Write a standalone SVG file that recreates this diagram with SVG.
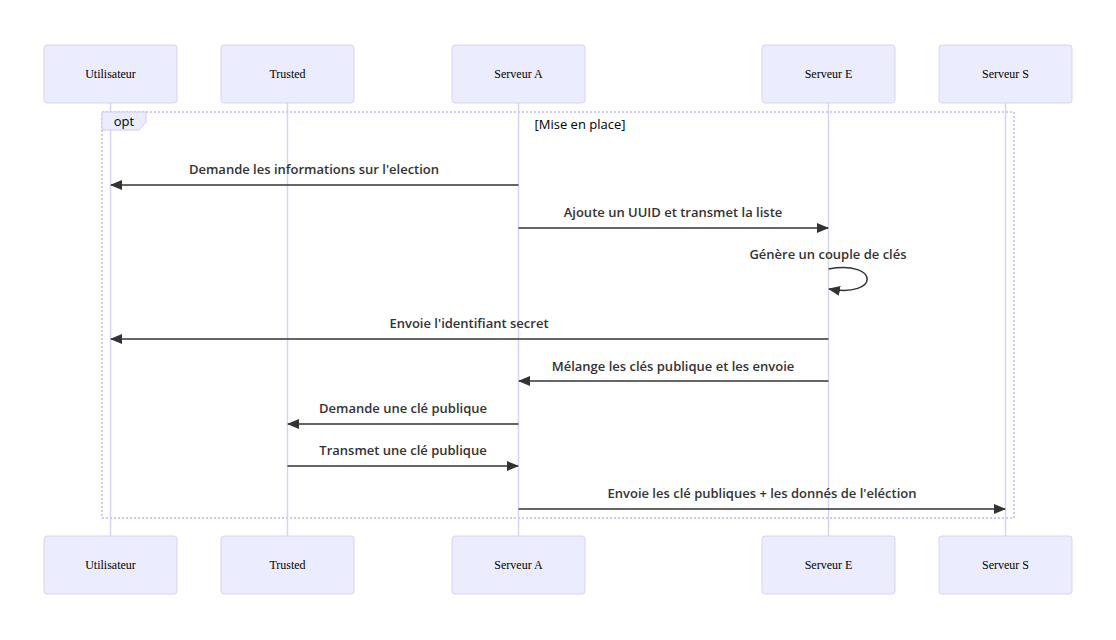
<svg xmlns="http://www.w3.org/2000/svg" width="1116" height="640" viewBox="0 0 1116 640">
<style>
.actor{fill:#ECECFF;stroke:#d9d2f7;stroke-width:1}
.atext{font-family:"Liberation Serif",serif;font-size:12px;fill:#000;text-anchor:middle;dominant-baseline:central}
.life{stroke:#d9d2f7;stroke-width:1.5}
.msg{stroke:#333;stroke-width:1.5;fill:none}
.mtext{font-family:"Open Sans","Noto Sans",sans-serif;font-weight:600;font-size:13px;fill:#333;text-anchor:middle}
.loop{fill:none;stroke:#d0c8f5;stroke-width:2;stroke-dasharray:2,2}
.ltext{font-family:"Open Sans","Noto Sans",sans-serif;font-size:13px;fill:#000}
</style>
<defs>
<marker id="ah" viewBox="0 0 12 12" refX="11" refY="6" markerWidth="12" markerHeight="12" markerUnits="userSpaceOnUse" orient="auto">
<path d="M0,1 L12,6 L0,11 z" fill="#333"/>
</marker>
</defs>
<g id="lifelines">
<line class="life" x1="110.5" y1="103" x2="110.5" y2="536"/>
<line class="life" x1="287.5" y1="103" x2="287.5" y2="536"/>
<line class="life" x1="518.5" y1="103" x2="518.5" y2="536"/>
<line class="life" x1="828.5" y1="103" x2="828.5" y2="536"/>
<line class="life" x1="1005.5" y1="103" x2="1005.5" y2="536"/>
</g>
<g id="actor-utilisateur">
<rect class="actor" x="44" y="45" width="133" height="58" rx="3"/><text class="atext" x="110.5" y="74">Utilisateur</text>
<rect class="actor" x="44" y="536" width="133" height="58" rx="3"/><text class="atext" x="110.5" y="565">Utilisateur</text>
</g>
<g id="actor-trusted">
<rect class="actor" x="221" y="45" width="133" height="58" rx="3"/><text class="atext" x="287.5" y="74">Trusted</text>
<rect class="actor" x="221" y="536" width="133" height="58" rx="3"/><text class="atext" x="287.5" y="565">Trusted</text>
</g>
<g id="actor-serveur-a">
<rect class="actor" x="452" y="45" width="133" height="58" rx="3"/><text class="atext" x="518.5" y="74">Serveur A</text>
<rect class="actor" x="452" y="536" width="133" height="58" rx="3"/><text class="atext" x="518.5" y="565">Serveur A</text>
</g>
<g id="actor-serveur-e">
<rect class="actor" x="762" y="45" width="133" height="58" rx="3"/><text class="atext" x="828.5" y="74">Serveur E</text>
<rect class="actor" x="762" y="536" width="133" height="58" rx="3"/><text class="atext" x="828.5" y="565">Serveur E</text>
</g>
<g id="actor-serveur-s">
<rect class="actor" x="939" y="45" width="133" height="58" rx="3"/><text class="atext" x="1005.5" y="74">Serveur S</text>
<rect class="actor" x="939" y="536" width="133" height="58" rx="3"/><text class="atext" x="1005.5" y="565">Serveur S</text>
</g>
<g id="opt-loop">
<rect class="loop" x="102" y="112" width="912" height="406"/>
<polygon points="102,112 146,112 146,122 139,130 102,130" fill="#ECECFF" stroke="#d0c8f5" stroke-width="1"/>
<text class="ltext" x="124" y="126" text-anchor="middle">opt</text>
<text class="ltext" x="580" y="129" text-anchor="middle">[Mise en place]</text>
</g>
<g id="connectors">
<text class="mtext" x="314" y="174">Demande les informations sur l'election</text>
<line class="msg" x1="518.5" y1="185" x2="111" y2="185" marker-end="url(#ah)"/>
<text class="mtext" x="673" y="217">Ajoute un UUID et transmet la liste</text>
<line class="msg" x1="518.5" y1="228" x2="828" y2="228" marker-end="url(#ah)"/>
<text class="mtext" x="828" y="259">Génère un couple de clés</text>
<path class="msg" d="M828.5,269 C880,260 880,298 829,289" marker-end="url(#ah)"/>
<text class="mtext" x="469" y="328">Envoie l'identifiant secret</text>
<line class="msg" x1="828.5" y1="339" x2="111" y2="339" marker-end="url(#ah)"/>
<text class="mtext" x="673" y="371">Mélange les clés publique et les envoie</text>
<line class="msg" x1="828.5" y1="381" x2="519" y2="381" marker-end="url(#ah)"/>
<text class="mtext" x="403" y="413">Demande une clé publique</text>
<line class="msg" x1="518.5" y1="424" x2="288" y2="424" marker-end="url(#ah)"/>
<text class="mtext" x="403" y="455">Transmet une clé publique</text>
<line class="msg" x1="287.5" y1="466" x2="518" y2="466" marker-end="url(#ah)"/>
<text class="mtext" x="762" y="498">Envoie les clé publiques + les donnés de l'eléction</text>
<line class="msg" x1="518.5" y1="509" x2="1005" y2="509" marker-end="url(#ah)"/>
</g>
</svg>
